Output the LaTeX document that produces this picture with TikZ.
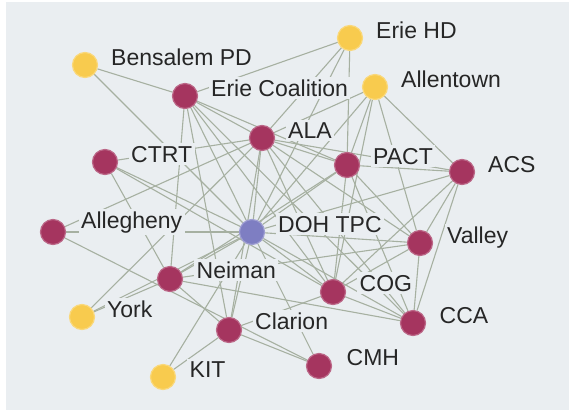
\documentclass[tikz,border=0pt]{standalone}
\usepackage{fontspec}
\setmainfont{Liberation Sans}
\definecolor{bgc}{HTML}{EAEEF1}
\definecolor{magc}{HTML}{A5355F}
\definecolor{yelc}{HTML}{F8CB4E}
\definecolor{purc}{HTML}{7E7EC2}
\definecolor{edgec}{HTML}{A6B0A1}
\definecolor{txtc}{HTML}{262626}
\pgfdeclarelayer{back}
\pgfdeclarelayer{edges}
\pgfsetlayers{back,edges,main}
\begin{document}
\begin{tikzpicture}[x=1pt,y=-1pt,
  vert/.style={circle,minimum size=25pt,inner sep=0pt,line width=1.2pt},
  mnode/.style={vert,fill=magc,draw=magc!75!white},
  ynode/.style={vert,fill=yelc,draw=yelc!75!white},
  pnode/.style={vert,fill=purc,draw=purc!75!white},
  lbl/.style={anchor=base west,fill=bgc,inner sep=2.5pt,text=txtc,
    font=\fontsize{23}{23}\selectfont},
  link/.style={draw=edgec,line width=1.1pt}]
\useasboundingbox (0,0) rectangle (569,410);
\begin{pgfonlayer}{back}
\fill[white] (0,0) rectangle (569,410);
\fill[bgc] (6,2) rectangle (569,410);
\end{pgfonlayer}
% vertices
\node[ynode] (BPD) at (85,65) {};
\node[ynode] (EHD) at (350,38) {};
\node[ynode] (ALT) at (375,87) {};
\node[mnode] (EC) at (185,96) {};
\node[mnode] (ALA) at (262,138) {};
\node[mnode] (CTRT) at (105,162) {};
\node[mnode] (PACT) at (347,165) {};
\node[mnode] (ACS) at (462,172) {};
\node[mnode] (ALG) at (53,232) {};
\node[pnode] (DOH) at (252,232) {};
\node[mnode] (VAL) at (420,243) {};
\node[mnode] (NEI) at (170,279) {};
\node[mnode] (COG) at (333,292) {};
\node[ynode] (YORK) at (82,317) {};
\node[mnode] (CCA) at (413,323) {};
\node[mnode] (CLA) at (229,330) {};
\node[mnode] (CMH) at (319,366) {};
\node[ynode] (KIT) at (163,377) {};
% labels
\node[lbl] (lBPD) at (108.5,65) {Bensalem PD};
\node[lbl] (lEHD) at (373.5,38) {Erie HD};
\node[lbl] (lALT) at (398.5,87) {Allentown};
\node[lbl] (lEC) at (208.5,96) {Erie Coalition};
\node[lbl] (lALA) at (285.5,138) {ALA};
\node[lbl] (lCTRT) at (128.5,162) {CTRT};
\node[lbl] (lPACT) at (370.5,164) {PACT};
\node[lbl] (lACS) at (485.5,172) {ACS};
\node[lbl] (lALG) at (78.5,228) {Allegheny};
\node[lbl] (lDOH) at (275.5,232) {DOH TPC};
\node[lbl] (lVAL) at (444.5,243) {Valley};
\node[lbl] (lNEI) at (194,278) {Neiman};
\node[lbl] (lCOG) at (357,291) {COG};
\node[lbl] (lYORK) at (104.5,317) {York};
\node[lbl] (lCCA) at (437,323) {CCA};
\node[lbl] (lCLA) at (252.5,329) {Clarion};
\node[lbl] (lCMH) at (344,365) {CMH};
\node[lbl] (lKIT) at (187,377) {KIT};
% connectors
\begin{pgfonlayer}{edges}
\foreach \a/\b in {BPD/EC, BPD/DOH,
  EC/EHD, EC/ALA, EC/NEI, EC/CLA, EC/DOH, EC/PACT, EC/COG, EC/CCA,
  EHD/ALA, EHD/DOH, EHD/PACT,
  ALT/ALA, ALT/PACT, ALT/ACS, ALT/VAL, ALT/COG, ALT/DOH,
  ALA/CTRT, ALA/ALG, ALA/YORK, ALA/DOH, ALA/PACT, ALA/ACS, ALA/VAL,
  ALA/COG, ALA/CLA, ALA/CCA,
  CTRT/DOH, CTRT/NEI, CTRT/COG,
  PACT/ACS, PACT/DOH, PACT/VAL, PACT/COG, PACT/CCA, PACT/NEI,
  ACS/DOH, ACS/VAL, ACS/CCA, ACS/COG,
  DOH/ALG, DOH/YORK, DOH/NEI, DOH/KIT, DOH/CLA, DOH/CMH, DOH/COG,
  DOH/VAL, DOH/CCA,
  VAL/NEI, VAL/COG, VAL/CCA,
  NEI/CLA, NEI/YORK, NEI/CCA,
  ALG/CMH, CLA/CMH, CLA/KIT, CLA/COG, COG/CCA}
  \draw[link] (\a) -- (\b);
\end{pgfonlayer}
\end{tikzpicture}
\end{document}
